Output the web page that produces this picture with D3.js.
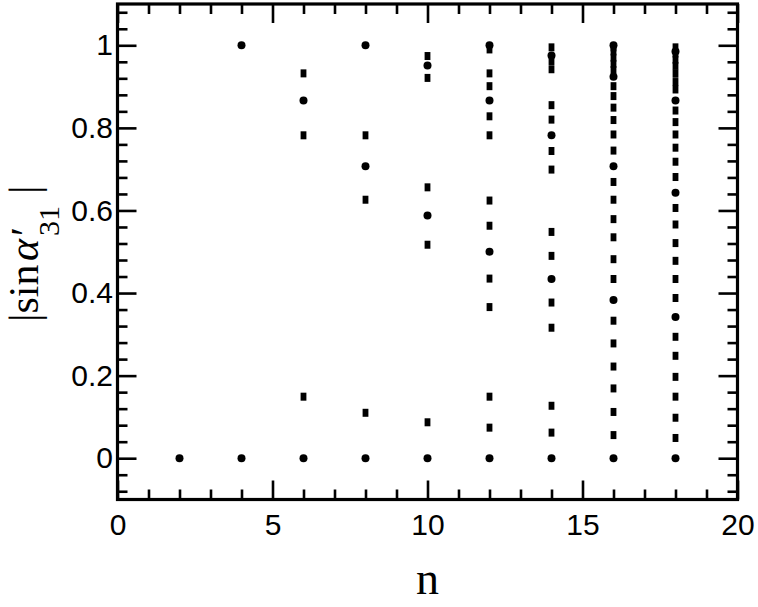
<!DOCTYPE html>
<html><head><meta charset="utf-8">
<script src="https://cdn.jsdelivr.net/npm/d3@7"></script>
<style>
html,body{margin:0;padding:0;background:#fff;}
svg{display:block;}
</style>
</head><body>
<svg id="chart" width="758" height="607"></svg>
<script>
// ---- data ----
const xTicksMajor = [0, 5, 10, 15, 20];
const yTicksMajor = [0, 0.2, 0.4, 0.6, 0.8, 1];
const yTickLabels = ["0", "0.2", "0.4", "0.6", "0.8", "1"];

// circle markers: n -> values
const circleN = [2, 4, 6, 8, 10, 12, 14, 16, 18];
const circleVals = [
  [0],
  [0, 1],
  [0, 0.866],
  [0, 0.707, 1],
  [0, 0.588, 0.951],
  [0, 0.5, 0.866, 1],
  [0, 0.434, 0.782, 0.975],
  [0, 0.383, 0.707, 0.924, 1],
  [0, 0.342, 0.643, 0.866, 0.985]
];

// square markers: n -> values
const squareN = [6, 8, 10, 12, 14, 16, 18];
const squareVals = [
  [0.149, 0.782, 0.932],
  [0.110, 0.626, 0.782],
  [0.087, 0.517, 0.656, 0.921, 0.974],
  [0.074, 0.149, 0.366, 0.435, 0.563, 0.624, 0.782, 0.828, 0.901, 0.932, 0.99],
  [0.062, 0.127, 0.316, 0.377, 0.49, 0.548, 0.699, 0.744, 0.820, 0.855, 0.942, 0.962, 0.995],
  [0.056, 0.112, 0.169, 0.222, 0.278, 0.333, 0.434, 0.482, 0.535, 0.579, 0.626, 0.669, 0.745, 0.784, 0.819, 0.849, 0.877, 0.901, 0.94, 0.955, 0.97, 0.985, 0.995],
  [0.049, 0.098, 0.149, 0.197, 0.248, 0.294, 0.388, 0.434, 0.478, 0.521, 0.566, 0.606, 0.681, 0.718, 0.752, 0.784, 0.814, 0.842, 0.893, 0.911, 0.931, 0.95, 0.965, 0.98, 0.995]
];

// ---- layout ----
const L = 117.5, R = 737.5, T = 4, B = 499.5;
const x = d3.scaleLinear().domain([0, 20]).range([L, R]);
const y = d3.scaleLinear().domain([-0.1, 1.1]).range([B, T]);

const svg = d3.select("#chart");

const circles = [];
circleN.forEach((n, i) => circleVals[i].forEach(v => circles.push({n, v})));
const squares = [];
squareN.forEach((n, i) => squareVals[i].forEach(v => squares.push({n, v})));

// markers
svg.append("g").selectAll("rect").data(squares).join("rect")
  .attr("x", d => x(d.n) - 2.9).attr("y", d => y(d.v) - 4)
  .attr("width", 5.8).attr("height", 8).attr("fill", "#000");
svg.append("g").selectAll("circle").data(circles).join("circle")
  .attr("cx", d => x(d.n)).attr("cy", d => y(d.v)).attr("r", 4).attr("fill", "#000");

// axes
const xMinor = d3.range(0, 21, 1).filter(v => v % 5 !== 0);
const yMinor = d3.range(-0.08, 1.1, 0.04).map(v => +v.toFixed(2)).filter(v => Math.abs(v*5 - Math.round(v*5)) > 1e-6);

function styleAxis(g) {
  g.select(".domain").remove();
  g.selectAll("line").attr("stroke", "#000").attr("stroke-width", 2.6);
  g.selectAll("text").attr("font-family", "'Liberation Sans', Arial, Helvetica, sans-serif")
    .attr("font-size", 30).attr("fill", "#000");
}

// bottom
svg.append("g").attr("transform", `translate(0,${B})`)
  .call(d3.axisBottom(x).tickValues(xTicksMajor).tickSize(-19).tickPadding(14).tickFormat(d3.format("d")))
  .call(styleAxis);
svg.append("g").attr("transform", `translate(0,${B})`)
  .call(d3.axisBottom(x).tickValues(xMinor).tickSize(-10).tickFormat(""))
  .call(styleAxis);
// top
svg.append("g").attr("transform", `translate(0,${T})`)
  .call(d3.axisTop(x).tickValues(xTicksMajor).tickSize(-19).tickFormat(""))
  .call(styleAxis);
svg.append("g").attr("transform", `translate(0,${T})`)
  .call(d3.axisTop(x).tickValues(xMinor).tickSize(-10).tickFormat(""))
  .call(styleAxis);
// left
svg.append("g").attr("transform", `translate(${L},0)`)
  .call(d3.axisLeft(y).tickValues(yTicksMajor).tickSize(-19).tickPadding(4.5)
    .tickFormat((d, i) => yTickLabels[i]))
  .call(styleAxis);
svg.append("g").attr("transform", `translate(${L},0)`)
  .call(d3.axisLeft(y).tickValues(yMinor).tickSize(-10).tickFormat(""))
  .call(styleAxis);
// right
svg.append("g").attr("transform", `translate(${R},0)`)
  .call(d3.axisRight(y).tickValues(yTicksMajor).tickSize(-19).tickFormat(""))
  .call(styleAxis);
svg.append("g").attr("transform", `translate(${R},0)`)
  .call(d3.axisRight(y).tickValues(yMinor).tickSize(-10).tickFormat(""))
  .call(styleAxis);

// frame
svg.append("rect").attr("x", L).attr("y", T).attr("width", R - L).attr("height", B - T)
  .attr("fill", "none").attr("stroke", "#000").attr("stroke-width", 3.2);

// x title
svg.append("text").attr("x", (L + R) / 2).attr("y", 594).attr("text-anchor", "middle")
  .attr("font-family", "'Liberation Serif', 'Times New Roman', serif").attr("font-size", 46)
  .text("n");

// y title  |sinα′₃₁|
const serif = "'Liberation Serif', 'Times New Roman', serif";
const yt = svg.append("g").attr("transform", "translate(38,322) rotate(-90)");
yt.append("text").attr("x", 0).attr("y", 0).attr("font-family", serif).attr("font-size", 42).text("|sin");
yt.append("text").attr("x", 61).attr("y", 0).attr("font-family", serif).attr("font-size", 42)
  .attr("font-style", "italic").text("α");
yt.append("text").attr("x", 86).attr("y", 2).attr("font-family", serif).attr("font-size", 42).text("′");
yt.append("text").attr("x", 86).attr("y", 21).attr("font-family", serif).attr("font-size", 30).text("31");
yt.append("text").attr("x", 128).attr("y", 0).attr("font-family", serif).attr("font-size", 42).text("|");
</script>
</body></html>
